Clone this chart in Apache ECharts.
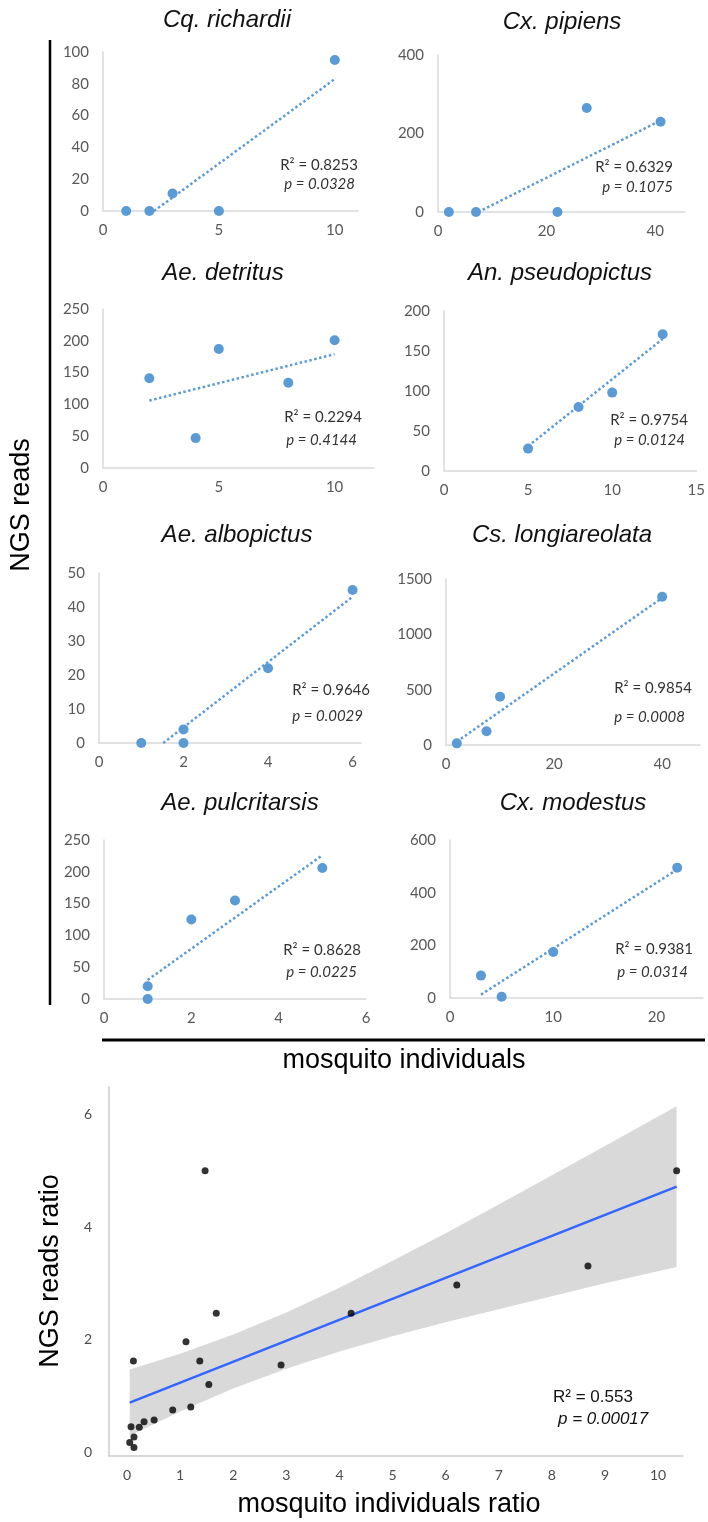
<!DOCTYPE html>
<html><head><meta charset="utf-8">
<script src="https://cdn.jsdelivr.net/npm/echarts@6/dist/echarts.min.js"></script>
<style>html,body{margin:0;padding:0;background:#fff}#c{width:708px;height:1522px}</style>
</head><body><div id="c"></div>
<script>
// ---------- DATA ----------
const species = ['Cq. richardii','Cx. pipiens','Ae. detritus','An. pseudopictus','Ae. albopictus','Cs. longiareolata','Ae. pulcritarsis','Cx. modestus'];

const xCqRichardii = [1, 2, 3, 5, 10];
const yCqRichardii = [0, 0, 11, 0, 95];
const trendXCqRichardii = [2.2, 10];
const trendYCqRichardii = [0, 83];

const xCxPipiens = [2, 7, 22, 27.4, 41];
const yCxPipiens = [0, 0, 0, 265, 230];
const trendXCxPipiens = [7.4, 41];
const trendYCxPipiens = [0, 233];

const xAeDetritus = [2, 4, 5, 8, 10];
const yAeDetritus = [141, 47, 187, 134, 201];
const trendXAeDetritus = [2, 10];
const trendYAeDetritus = [106, 179];

const xAnPseudopictus = [5, 8, 10, 13];
const yAnPseudopictus = [28, 80, 98, 171];
const trendXAnPseudopictus = [5, 13];
const trendYAnPseudopictus = [31, 165];

const xAeAlbopictus = [1, 2, 2, 4, 6];
const yAeAlbopictus = [0, 4, 0, 22, 45];
const trendXAeAlbopictus = [1.52, 6];
const trendYAeAlbopictus = [0, 43];

const xCsLongiareolata = [2, 7.5, 10, 40];
const yCsLongiareolata = [15, 125, 437, 1340];
const trendXCsLongiareolata = [2, 40];
const trendYCsLongiareolata = [30, 1330];

const xAePulcritarsis = [1, 1, 2, 3, 5];
const yAePulcritarsis = [20, 0, 125, 155, 206];
const trendXAePulcritarsis = [1, 5];
const trendYAePulcritarsis = [30, 226];

const xCxModestus = [3, 5, 10, 22];
const yCxModestus = [85, 5, 175, 495];
const trendXCxModestus = [3, 22];
const trendYCxModestus = [13, 488];

const r2Values = ['0.8253','0.6329','0.2294','0.9754','0.9646','0.9854','0.8628','0.9381'];
const pValues  = ['0.0328','0.1075','0.4144','0.0124','0.0029','0.0008','0.0225','0.0314'];

// axis ranges / tick steps of the eight small panels
const xAxisMax  = [11, 45.5, 11.7, 15, 6.2, 47, 6, 24.5];
const xTickStep = [5, 20, 5, 5, 2, 20, 2, 10];
const yAxisMax  = [100, 400, 250, 200, 50, 1500, 250, 600];
const yTickStep = [20, 200, 50, 50, 10, 500, 50, 200];

// bottom panel: ratios
const ratioX = [1.47, 1.68, 1.11, 0.12, 1.37, 2.90, 1.54, 0.86, 1.20, 0.075, 0.23, 0.32, 0.51, 0.13, 0.05, 0.13, 4.22, 6.21, 8.68, 10.35];
const ratioY = [5.00, 2.47, 1.96, 1.62, 1.62, 1.55, 1.20, 0.75, 0.80, 0.45, 0.44, 0.54, 0.57, 0.27, 0.17, 0.08, 2.47, 2.97, 3.31, 5.00];
const fitX = [0.05, 10.35];
const fitY = [0.88, 4.72];
const bandX     = [0.05, 1, 2, 3, 4, 5, 6, 7, 8, 9, 10.35];
const bandUpper = [1.47, 1.75, 2.09, 2.48, 2.92, 3.40, 3.89, 4.40, 4.92, 5.44, 6.15];
const bandLower = [0.29, 0.72, 1.13, 1.48, 1.79, 2.06, 2.31, 2.54, 2.77, 3.00, 3.29];
const ratioR2 = '0.553';
const ratioP = '0.00017';
const ratioXRange = [-0.34, 10.47];
const ratioYRange = [-0.07, 6.49];

// ---------- LAYOUT ----------
const panelXs = [xCqRichardii, xCxPipiens, xAeDetritus, xAnPseudopictus, xAeAlbopictus, xCsLongiareolata, xAePulcritarsis, xCxModestus];
const panelYs = [yCqRichardii, yCxPipiens, yAeDetritus, yAnPseudopictus, yAeAlbopictus, yCsLongiareolata, yAePulcritarsis, yCxModestus];
const trendXs = [trendXCqRichardii, trendXCxPipiens, trendXAeDetritus, trendXAnPseudopictus, trendXAeAlbopictus, trendXCsLongiareolata, trendXAePulcritarsis, trendXCxModestus];
const trendYs = [trendYCqRichardii, trendYCxPipiens, trendYAeDetritus, trendYAnPseudopictus, trendYAeAlbopictus, trendYCsLongiareolata, trendYAePulcritarsis, trendYCxModestus];

const boxes = [
  {l:103, r:358, t:52,  b:211},
  {l:438, r:685, t:55,  b:212},
  {l:103, r:374, t:309, b:468},
  {l:444, r:702, t:311, b:471},
  {l:99,  r:361, t:573, b:743},
  {l:446, r:700, t:579, b:745},
  {l:104, r:366, t:840, b:999},
  {l:450, r:703, t:840, b:998}
];
const titlePos = [[227,20],[562,22],[223,273],[560,273],[237,535],[562,535],[240,803],[573,803]];
const r2Pos = [[358,165],[673,167],[362,417],[688,420],[370,690],[692,688],[361,950],[693,949]];
const pPos  = [[355,184],[673,187],[357,440],[685,440],[363,716],[685,717],[357,972],[688,972]];

const BLUE = '#5B9BD5';
const TICK = '#595959';
const AXIS = '#D9D9D9';

const grids = [], xAxes = [], yAxes = [], series = [], graphics = [];

function stepFormatter(step) {
  return function (v) {
    const k = v / step;
    return Math.abs(k - Math.round(k)) < 1e-6 ? String(Math.round(v * 1000) / 1000) : '';
  };
}

for (let i = 0; i < 8; i++) {
  const b = boxes[i];
  grids.push({left: b.l, top: b.t, width: b.r - b.l, height: b.b - b.t, containLabel: false});
  xAxes.push({
    type: 'value', gridIndex: i, min: 0, max: xAxisMax[i], interval: xTickStep[i],
    axisLine: {show: true, onZero: false, lineStyle: {color: AXIS, width: 1.5}},
    axisTick: {show: false}, splitLine: {show: false},
    axisLabel: {color: TICK, fontFamily: 'Lato', fontSize: 15, margin: 12, formatter: stepFormatter(xTickStep[i]), showMaxLabel: true}
  });
  yAxes.push({
    type: 'value', gridIndex: i, min: 0, max: yAxisMax[i], interval: yTickStep[i],
    axisLine: {show: true, lineStyle: {color: AXIS, width: 1.5}},
    axisTick: {show: false}, splitLine: {show: false},
    axisLabel: {color: TICK, fontFamily: 'Lato', fontSize: 15, margin: 14, formatter: stepFormatter(yTickStep[i])}
  });
  series.push({
    type: 'line', xAxisIndex: i, yAxisIndex: i, z: 2,
    data: trendXs[i].map((x, j) => [x, trendYs[i][j]]),
    showSymbol: false, symbol: 'none', silent: true,
    lineStyle: {color: BLUE, width: 2.5, type: 'dotted'}
  });
  series.push({
    type: 'scatter', xAxisIndex: i, yAxisIndex: i, z: 3, clip: false,
    data: panelXs[i].map((x, j) => [x, panelYs[i][j]]),
    symbolSize: 10, itemStyle: {color: BLUE, opacity: 1}
  });
  graphics.push({type: 'text', x: titlePos[i][0], y: titlePos[i][1],
    style: {text: species[i], fill: '#111', font: 'italic 24px "Liberation Sans", Arial, sans-serif', align: 'center', verticalAlign: 'middle'}});
  graphics.push({type: 'text', x: r2Pos[i][0], y: r2Pos[i][1],
    style: {text: 'R² = ' + r2Values[i], fill: '#333', font: '15px Lato, sans-serif', align: 'right', verticalAlign: 'middle'}});
  graphics.push({type: 'text', x: pPos[i][0], y: pPos[i][1],
    style: {text: 'p = ' + pValues[i], fill: '#333', font: 'italic 15px Lato, sans-serif', align: 'right', verticalAlign: 'middle'}});
}

// bottom panel (index 8)
grids.push({left: 109, top: 1087, width: 683 - 109, height: 1456 - 1087});
xAxes.push({
  type: 'value', gridIndex: 8, min: ratioXRange[0], max: ratioXRange[1], splitNumber: 10,
  axisLine: {show: true, onZero: false, lineStyle: {color: '#CCCCCC', width: 1.5}},
  axisTick: {show: false}, splitLine: {show: false},
  axisLabel: {color: '#4D4D4D', fontFamily: 'Lato', fontSize: 14, margin: 12, formatter: stepFormatter(1)}
});
yAxes.push({
  type: 'value', gridIndex: 8, min: ratioYRange[0], max: ratioYRange[1], splitNumber: 3,
  axisLine: {show: true, onZero: false, lineStyle: {color: '#CCCCCC', width: 1.5}},
  axisTick: {show: false}, splitLine: {show: false},
  axisLabel: {color: '#4D4D4D', fontFamily: 'Lato', fontSize: 14, margin: 17, formatter: stepFormatter(2)}
});
series.push({
  type: 'custom', xAxisIndex: 8, yAxisIndex: 8, z: 1, silent: true, clip: false,
  data: [[bandX[0], bandUpper[0]]],
  renderItem: function (params, api) {
    const pts = [];
    for (let k = 0; k < bandX.length; k++) pts.push(api.coord([bandX[k], bandUpper[k]]));
    for (let k = bandX.length - 1; k >= 0; k--) pts.push(api.coord([bandX[k], bandLower[k]]));
    return {type: 'polygon', shape: {points: pts}, style: {fill: '#D9D9D9'}};
  }
});
series.push({
  type: 'line', xAxisIndex: 8, yAxisIndex: 8, z: 2, silent: true,
  data: fitX.map((x, j) => [x, fitY[j]]), showSymbol: false, symbol: 'none',
  lineStyle: {color: '#3366FF', width: 2.5}
});
series.push({
  type: 'scatter', xAxisIndex: 8, yAxisIndex: 8, z: 3, clip: false,
  data: ratioX.map((x, j) => [x, ratioY[j]]), symbolSize: 7, itemStyle: {color: '#000'}
});

// structural lines and axis titles
graphics.push({type: 'line', shape: {x1: 50, y1: 40, x2: 50, y2: 1005}, style: {stroke: '#000', lineWidth: 2.5}});
graphics.push({type: 'line', shape: {x1: 102, y1: 1040, x2: 705, y2: 1040}, style: {stroke: '#000', lineWidth: 3}});
graphics.push({type: 'text', x: 22, y: 505, rotation: Math.PI / 2,
  style: {text: 'NGS reads', fill: '#000', font: '27px "Liberation Sans", Arial, sans-serif', align: 'center', verticalAlign: 'middle'}});
graphics.push({type: 'text', x: 404, y: 1061,
  style: {text: 'mosquito individuals', fill: '#000', font: '27px "Liberation Sans", Arial, sans-serif', align: 'center', verticalAlign: 'middle'}});
graphics.push({type: 'text', x: 51, y: 1271, rotation: Math.PI / 2,
  style: {text: 'NGS reads ratio', fill: '#000', font: '27px "Liberation Sans", Arial, sans-serif', align: 'center', verticalAlign: 'middle'}});
graphics.push({type: 'text', x: 389, y: 1505,
  style: {text: 'mosquito individuals ratio', fill: '#000', font: '27px "Liberation Sans", Arial, sans-serif', align: 'center', verticalAlign: 'middle'}});
graphics.push({type: 'text', x: 553, y: 1397,
  style: {text: 'R² = ' + ratioR2, fill: '#111', font: '17px "Liberation Sans", Arial, sans-serif', align: 'left', verticalAlign: 'middle'}});
graphics.push({type: 'text', x: 558, y: 1419,
  style: {text: 'p = ' + ratioP, fill: '#111', font: 'italic 17px "Liberation Sans", Arial, sans-serif', align: 'left', verticalAlign: 'middle'}});

const chart = echarts.init(document.getElementById('c'), null, {renderer: 'canvas'});
chart.setOption({
  animation: false,
  backgroundColor: '#fff',
  grid: grids, xAxis: xAxes, yAxis: yAxes, series: series, graphic: graphics
});
</script></body></html>
